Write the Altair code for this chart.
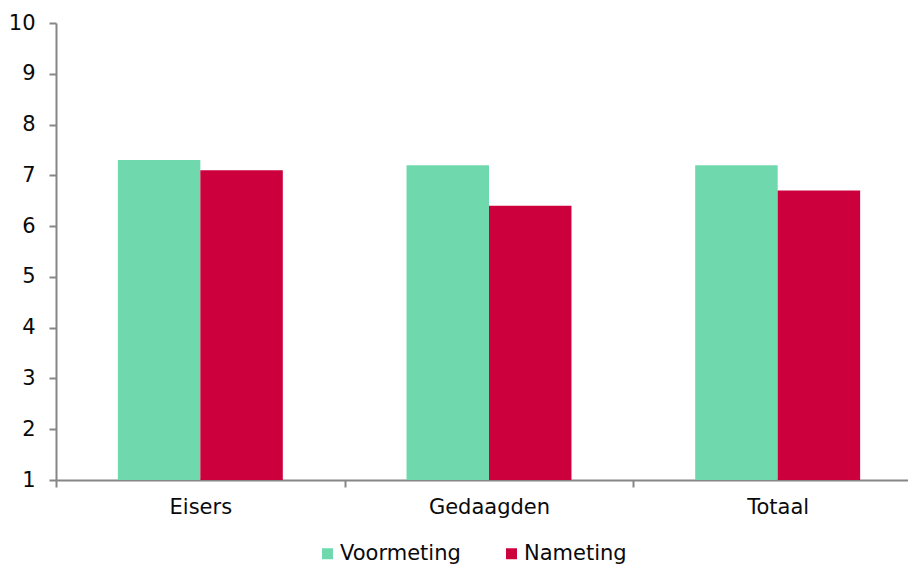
import altair as alt
import pandas as pd

categories = ["Eisers", "Gedaagden", "Totaal"]
series = ["Voormeting", "Nameting"]
voormeting = [7.3, 7.2, 7.2]
nameting = [7.1, 6.4, 6.7]
colors = ["#6fd9ad", "#cc003d"]

rows = []
for c, v, n in zip(categories, voormeting, nameting):
    rows.append({"cat": c, "serie": "Voormeting", "val": v})
    rows.append({"cat": c, "serie": "Nameting", "val": n})
df = pd.DataFrame(rows)

FONT = "DejaVu Sans"
AX = "#868686"
TXT = "#0a0a0a"

chart = alt.Chart(df).mark_bar().encode(
    x=alt.X("cat:N", sort=categories, title=None,
            scale=alt.Scale(range=[0, 866], paddingInner=0, paddingOuter=0),
            axis=alt.Axis(labelAngle=0, tickBand="extent", domainColor=AX, domainWidth=2,
                          tickColor=AX, tickWidth=2, tickSize=7, labelFont=FONT,
                          labelFontSize=21, labelColor=TXT, labelPadding=9,
                          labelBound=False, labelFlush=False, labelOverlap=False)),
    xOffset=alt.XOffset("serie:N", sort=series,
                        scale=alt.Scale(paddingOuter=0.75, paddingInner=0)),
    y=alt.Y("val:Q", title=None,
            scale=alt.Scale(domain=[1, 10], nice=False, zero=False),
            axis=alt.Axis(values=list(range(1, 11)), grid=False, domainColor=AX,
                          domainWidth=2, tickColor=AX, tickWidth=2, tickSize=7,
                          labelFont=FONT, labelFontSize=21, labelColor=TXT,
                          labelPadding=14)),
    y2=alt.datum(1),
    color=alt.Color("serie:N", sort=series,
                    scale=alt.Scale(domain=series, range=colors),
                    legend=alt.Legend(title=None, orient="none", direction="horizontal",
                                      legendX=261, legendY=520, symbolType="square",
                                      symbolSize=121, symbolStrokeWidth=0,
                                      symbolOpacity=1, labelFont=FONT,
                                      labelFontSize=21, labelColor=TXT,
                                      labelOffset=2, columnPadding=40)),
).properties(
    width=852, height=457,
    autosize=alt.AutoSizeParams(type="none"),
    padding={"left": 48, "right": 0, "top": 15, "bottom": 84},
).configure_view(stroke=None)

chart.save("out.html", embed_options={"renderer": "svg", "actions": False})
